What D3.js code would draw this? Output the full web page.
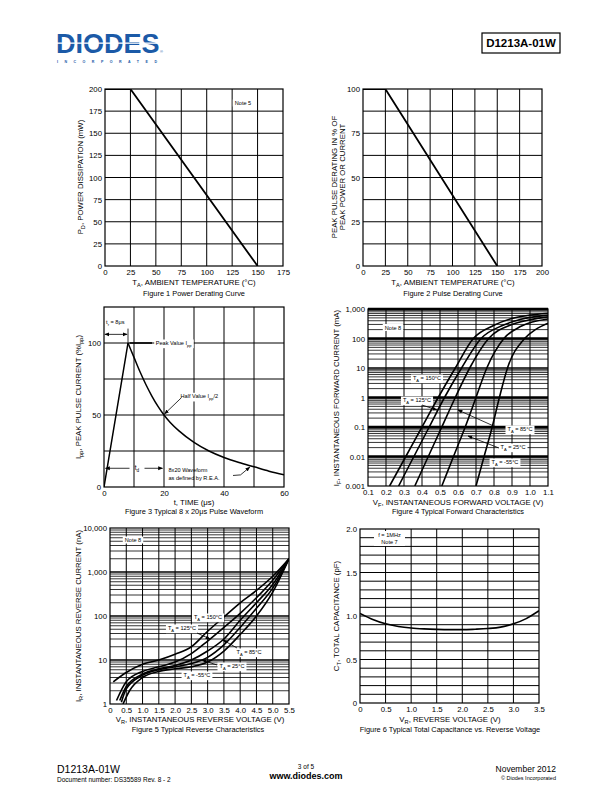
<!DOCTYPE html>
<html><head><meta charset="utf-8">
<script src="https://cdn.jsdelivr.net/npm/d3@7"></script>
<style>
body{margin:0;background:#fff}
svg{display:block}
text{font-family:"Liberation Sans",Arial,Helvetica,sans-serif}
</style>
</head><body>
<script>
// ================= DATA =================
// Figure 1 – Power derating
const fig1Temp = [0, 25, 150];
const fig1Power = [200, 200, 0];
const fig1XTicks = [0, 25, 50, 75, 100, 125, 150, 175];
const fig1YTicks = [0, 25, 50, 75, 100, 125, 150, 175, 200];

// Figure 2 – Pulse derating
const fig2Temp = [0, 25, 150];
const fig2Derating = [100, 100, 0];
const fig2XTicks = [0, 25, 50, 75, 100, 125, 150, 175, 200];
const fig2YTicks = [0, 25, 50, 75, 100];
const fig2YGrid = [12.5, 25, 37.5, 50, 62.5, 75, 87.5, 100];

// Figure 3 – 8x20us pulse waveform
const fig3Time = [0, 8, 10, 12, 14, 16, 18, 20, 22, 25, 30, 35, 40, 45, 50, 55, 60];
const fig3Current = [0, 100, 90, 80, 71, 63, 56, 50, 45, 39, 31, 25, 20.5, 17, 14, 11, 8.5];
const fig3XTicks = [0, 20, 40, 60];
const fig3XGrid = [10, 20, 30, 40, 50];
const fig3YTicks = [0, 50, 100];
const fig3YGrid = [25, 50, 75, 100];

// Figure 4 – forward characteristics (V in volts, I in mA)
const fig4V150 = [0.22, 0.31, 0.40, 0.49, 0.585, 0.685, 0.80, 0.90, 1.00, 1.10];
const fig4I150 = [0.001, 0.01, 0.1, 1, 10, 100, 280, 480, 620, 720];
const fig4V125 = [0.27, 0.355, 0.44, 0.525, 0.62, 0.728, 0.85, 0.95, 1.10];
const fig4I125 = [0.001, 0.01, 0.1, 1, 10, 100, 280, 450, 620];
const fig4V85 = [0.36, 0.435, 0.51, 0.585, 0.665, 0.77, 0.90, 1.00, 1.10];
const fig4I85 = [0.001, 0.01, 0.1, 1, 10, 100, 300, 430, 540];
const fig4V25 = [0.51, 0.575, 0.64, 0.70, 0.76, 0.855, 0.95, 1.10];
const fig4I25 = [0.001, 0.01, 0.1, 1, 10, 100, 260, 460];
const fig4Vm55 = [0.70, 0.745, 0.79, 0.83, 0.875, 0.97, 1.03, 1.10];
const fig4Im55 = [0.001, 0.01, 0.1, 1, 10, 100, 200, 330];
const fig4XTicks = [0.1, 0.2, 0.3, 0.4, 0.5, 0.6, 0.7, 0.8, 0.9, 1.0, 1.1];
const fig4YTicks = [0.001, 0.01, 0.1, 1, 10, 100, 1000];
const fig4YTickLabels = ["0.001", "0.01", "0.1", "1", "10", "100", "1,000"];

// Figure 5 – reverse characteristics (V in volts, I in nA)
const fig5V = [0.1, 0.5, 1.0, 1.5, 2.0, 2.5, 3.0, 3.5, 4.0, 4.5, 5.0, 5.5];
const fig5I150 = [3.2, 5.2, 8, 10, 13.5, 20, 45, 95, 200, 380, 800, 2000];
const fig5V125 = [0.2, 0.5, 1.0, 1.5, 2.0, 2.5, 3.0, 3.5, 4.0, 4.5, 5.0, 5.5];
const fig5I125 = [1.2, 3.2, 5.5, 7, 9, 14, 27, 55, 115, 260, 650, 2000];
const fig5V85 = [0.3, 0.5, 1.0, 1.5, 2.0, 2.5, 3.0, 3.5, 4.0, 4.5, 5.0, 5.5];
const fig5I85 = [1.2, 2.5, 4.8, 6.3, 7.5, 10, 16, 30, 80, 200, 520, 2000];
const fig5V25 = [0.35, 0.5, 1.0, 1.5, 2.0, 2.5, 3.0, 3.5, 4.0, 4.5, 5.0, 5.5];
const fig5I25 = [1.1, 2.2, 4.5, 6, 7, 8.3, 11.5, 22, 55, 150, 430, 2000];
const fig5Vm55 = [0.4, 0.6, 1.0, 1.5, 2.0, 2.5, 3.0, 3.5, 4.0, 4.5, 5.0, 5.5];
const fig5Im55 = [1, 2, 4, 5.5, 6.3, 7, 9, 16, 38, 100, 350, 2000];
const fig5XTicks = [0, 0.5, 1.0, 1.5, 2.0, 2.5, 3.0, 3.5, 4.0, 4.5, 5.0, 5.5];
const fig5XTickLabels = ["0", "0.5", "1.0", "1.5", "2.0", "2.5", "3.0", "3.5", "4.0", "4.5", "5.0", "5.5"];
const fig5YTicks = [1, 10, 100, 1000, 10000];
const fig5YTickLabels = ["1", "10", "100", "1,000", "10,000"];

// Figure 6 – capacitance
const fig6Voltage = [0, 0.25, 0.5, 0.75, 1.0, 1.25, 1.5, 1.75, 2.0, 2.25, 2.5, 2.75, 3.0, 3.25, 3.5];
const fig6Cap = [1.03, 0.96, 0.91, 0.88, 0.862, 0.852, 0.846, 0.843, 0.843, 0.848, 0.856, 0.872, 0.91, 0.97, 1.06];
const fig6XTicks = [0, 0.5, 1.0, 1.5, 2.0, 2.5, 3.0, 3.5];
const fig6XTickLabels = ["0", "0.5", "1.0", "1.5", "2.0", "2.5", "3.0", "3.5"];
const fig6YTicks = [0, 0.5, 1.0, 1.5, 2.0];
const fig6YTickLabels = ["0", "0.5", "1.0", "1.5", "2.0"];
const fig6YGrid = d3.range(1, 20).map(d => d / 10);

// ================= SETUP =================
const FONT = '"Liberation Sans", Arial, Helvetica, sans-serif';
const TICK = 7.8, TITLE = 7.8, CAP = 7.4;
const svg = d3.select("body").append("svg").attr("width", 612).attr("height", 792);
svg.append("rect").attr("width", 612).attr("height", 792).attr("fill", "#fff");
const defs = svg.append("defs");
defs.append("marker").attr("id", "arr").attr("viewBox", "0 0 10 10")
  .attr("refX", 9).attr("refY", 5).attr("markerWidth", 6).attr("markerHeight", 6)
  .attr("orient", "auto-start-reverse")
  .append("path").attr("d", "M0,1L10,5L0,9z").attr("fill", "#000");

function rich(parent, x, y, parts, o = {}) {
  const size = o.size || 7;
  const t = parent.append("text").attr("x", x).attr("y", y)
    .attr("font-size", size).attr("text-anchor", o.anchor || "start").attr("fill", "#000");
  if (o.weight) t.attr("font-weight", o.weight);
  if (o.rotate) t.attr("transform", `rotate(${o.rotate},${x},${y})`);
  let shifted = 0;
  parts.forEach(p => {
    const isSub = typeof p === "object";
    const s = t.append("tspan").text(isSub ? p.t : p);
    const target = isSub ? size * 0.3 : 0;
    if (target !== shifted) { s.attr("dy", target - shifted); shifted = target; }
    if (isSub) s.attr("font-size", size * 0.72);
  });
  return t;
}
function boxed(parent, x, y, parts, o = {}) {
  const g = parent.append("g");
  const r = g.append("rect").attr("fill", "#fff");
  const t = rich(g, x, y, parts, Object.assign({ anchor: "middle", size: 5.6 }, o));
  const b = t.node().getBBox();
  const px = o.padX != null ? o.padX : 2, py = o.padY != null ? o.padY : 0.5;
  r.attr("x", b.x - px).attr("y", b.y - py).attr("width", b.width + 2 * px).attr("height", b.height + 2 * py);
  return g;
}
function arrow(parent, x1, y1, x2, y2, w = 0.8) {
  parent.append("line").attr("x1", x1).attr("y1", y1).attr("x2", x2).attr("y2", y2)
    .attr("stroke", "#000").attr("stroke-width", w).attr("marker-end", "url(#arr)");
}
let clipId = 0;
function panel(box, x, y) {
  const g = svg.append("g");
  const id = "clip" + (clipId++);
  defs.append("clipPath").attr("id", id).append("rect")
    .attr("x", box.l).attr("y", box.t).attr("width", box.r - box.l).attr("height", box.b - box.t);
  const grid = g.append("g");
  const marks = g.append("g").attr("clip-path", `url(#${id})`);
  const ann = g.append("g");
  return { g, grid, marks, ann, box, x, y };
}
function vgrid(p, vals, w = 1) {
  p.grid.append("g").selectAll("line").data(vals).join("line")
    .attr("x1", d => p.x(d)).attr("x2", d => p.x(d))
    .attr("y1", p.box.t).attr("y2", p.box.b)
    .attr("stroke", "#000").attr("stroke-width", w);
}
function hgrid(p, vals, w = 1) {
  p.grid.append("g").selectAll("line").data(vals).join("line")
    .attr("y1", d => p.y(d)).attr("y2", d => p.y(d))
    .attr("x1", p.box.l).attr("x2", p.box.r)
    .attr("stroke", "#000").attr("stroke-width", w);
}
function frame(p, w = 1.2) {
  p.ann.append("rect").attr("x", p.box.l).attr("y", p.box.t)
    .attr("width", p.box.r - p.box.l).attr("height", p.box.b - p.box.t)
    .attr("fill", "none").attr("stroke", "#000").attr("stroke-width", w);
}
function axes(p, xt, xf, yt, yf, size = TICK) {
  const ax = p.g.append("g").attr("transform", `translate(0,${p.box.b})`)
    .call(d3.axisBottom(p.x).tickValues(xt).tickFormat(xf).tickSize(0).tickPadding(3));
  ax.select(".domain").remove();
  ax.attr("font-size", size).attr("font-family", FONT);
  const ay = p.g.append("g").attr("transform", `translate(${p.box.l},0)`)
    .call(d3.axisLeft(p.y).tickValues(yt).tickFormat(yf).tickSize(0).tickPadding(3));
  ay.select(".domain").remove();
  ay.attr("font-size", size).attr("font-family", FONT);
}
function curve(p, xs, ys, w = 1.6, c = d3.curveMonotoneX) {
  const pts = xs.map((v, i) => [v, ys[i]]);
  p.marks.append("path").datum(pts)
    .attr("d", d3.line().x(d => p.x(d[0])).y(d => p.y(d[1])).curve(c))
    .attr("fill", "none").attr("stroke", "#000").attr("stroke-width", w).attr("stroke-linejoin", "round");
}
function logMinor(domain) {
  const out = [];
  for (let e = Math.round(Math.log10(domain[0])); e < Math.round(Math.log10(domain[1])); e++) {
    for (let k = 2; k <= 9; k++) out.push(k * Math.pow(10, e));
  }
  return out;
}
const TA = (s) => ["T", { t: "A" }, " = " + s];

// ================= HEADER =================
const hdr = svg.append("g");
const logo = hdr.append("text").attr("x", 56).attr("y", 52.5).attr("font-size", 27).attr("font-weight", "bold")
  .attr("fill", "#1b5aa7");
logo.append("tspan").text("DIODES");
logo.append("tspan").attr("font-size", 4).attr("font-weight", "normal").attr("dx", 0.5).text("®");
hdr.append("rect").attr("x", 54).attr("y", 42.5).attr("width", 106).attr("height", 1.3).attr("fill", "#fff");
hdr.append("text").attr("x", 57).attr("y", 63).attr("font-size", 3.6).attr("font-weight", "bold")
  .attr("fill", "#1b5aa7").attr("textLength", 100).attr("lengthAdjust", "spacing").text("I N C O R P O R A T E D");
hdr.append("rect").attr("x", 482).attr("y", 33).attr("width", 78).attr("height", 20)
  .attr("fill", "none").attr("stroke", "#000").attr("stroke-width", 1.2);
hdr.append("text").attr("x", 521).attr("y", 47.3).attr("font-size", 11.5).attr("font-weight", "bold")
  .attr("text-anchor", "middle").text("D1213A-01W");

// ================= FIGURE 1 =================
{
  const box = { l: 105, r: 283, t: 89, b: 266 };
  const p = panel(box, d3.scaleLinear([0, 175], [box.l, box.r]), d3.scaleLinear([0, 200], [box.b, box.t]));
  vgrid(p, fig1XTicks.slice(1, -1));
  hgrid(p, fig1YTicks.slice(1, -1));
  curve(p, fig1Temp, fig1Power, 1.8, d3.curveLinear);
  frame(p);
  boxed(p.ann, 243, 105, ["Note 5"]);
  axes(p, fig1XTicks, d3.format("d"), fig1YTicks, d3.format("d"));
  rich(svg, 82.5, 177, ["P", { t: "D" }, ", POWER DISSIPATION (mW)"], { size: TITLE, anchor: "middle", rotate: -90 });
  rich(svg, 194, 285, ["T", { t: "A" }, ", AMBIENT TEMPERATURE (°C)"], { size: TITLE, anchor: "middle" });
  rich(svg, 194, 295.5, ["Figure 1  Power Derating Curve"], { size: CAP, anchor: "middle" });
}

// ================= FIGURE 2 =================
{
  const box = { l: 363, r: 542, t: 89, b: 266 };
  const p = panel(box, d3.scaleLinear([0, 200], [box.l, box.r]), d3.scaleLinear([0, 100], [box.b, box.t]));
  vgrid(p, fig2XTicks.slice(1, -1));
  hgrid(p, fig2YGrid.slice(0, -1));
  curve(p, fig2Temp, fig2Derating, 1.8, d3.curveLinear);
  frame(p);
  axes(p, fig2XTicks, d3.format("d"), fig2YTicks, d3.format("d"));
  rich(svg, 337, 177, ["PEAK PULSE DERATING IN % OF"], { size: TITLE, anchor: "middle", rotate: -90 });
  rich(svg, 345, 177, ["PEAK POWER OR CURRENT"], { size: TITLE, anchor: "middle", rotate: -90 });
  rich(svg, 453, 285, ["T", { t: "A" }, ", AMBIENT TEMPERATURE (°C)"], { size: TITLE, anchor: "middle" });
  rich(svg, 453, 295.5, ["Figure 2 Pulse Derating Curve"], { size: CAP, anchor: "middle" });
}

// ================= FIGURE 3 =================
{
  const box = { l: 104, r: 284, t: 307, b: 487 };
  const p = panel(box, d3.scaleLinear([0, 60], [box.l, box.r]), d3.scaleLinear([0, 125], [box.b, box.t]));
  vgrid(p, fig3XGrid);
  hgrid(p, fig3YGrid);
  const pk = fig3Current.indexOf(d3.max(fig3Current));
  curve(p, fig3Time.slice(0, pk + 1), fig3Current.slice(0, pk + 1), 1.5, d3.curveLinear);
  curve(p, fig3Time.slice(pk), fig3Current.slice(pk), 1.5, d3.curveMonotoneX);
  frame(p);
  const X = p.x, Y = p.y, a = p.ann;
  // t_r marker
  a.append("line").attr("x1", X(8)).attr("x2", X(8)).attr("y1", Y(110)).attr("y2", Y(100)).attr("stroke", "#000").attr("stroke-width", 0.8);
  arrow(a, X(4), Y(106), X(0.3), Y(106));
  arrow(a, X(4), Y(106), X(7.7), Y(106));
  rich(a, X(0.7), Y(113), ["t", { t: "r" }, " = 8μs"], { size: 5.6 });
  // peak value
  a.append("line").attr("x1", X(8.5)).attr("x2", X(16)).attr("y1", Y(100)).attr("y2", Y(100)).attr("stroke", "#000").attr("stroke-width", 1.6);
  boxed(a, X(23.2), Y(100) + 2, ["Peak Value I", { t: "pp" }], { size: 5.6, padX: 1.5 });
  // half value
  boxed(a, X(31.8), Y(63) + 2, ["Half Value I", { t: "pp" }, "/2"], { size: 5.6, padX: 1.5 });
  arrow(a, X(25.8), Y(62), X(20.2), Y(50.8));
  // t_d marker
  arrow(a, X(8.5), Y(13), X(0.5), Y(13));
  arrow(a, X(13.5), Y(13), X(19.5), Y(13));
  rich(a, X(11), Y(13) + 2, ["t", { t: "d" }], { size: 6.5, anchor: "middle" });
  // waveform note
  rich(a, X(21.5), Y(11) + 1, ["8x20 Waveform"], { size: 5.6 });
  rich(a, X(21.5), Y(5.5) + 1, ["as defined by R.E.A."], { size: 5.6 });
  a.append("path").attr("d", `M${X(43)},${Y(8)}L${X(45.5)},${Y(8.4)}`).attr("stroke", "#000").attr("stroke-width", 0.8).attr("fill", "none");
  arrow(a, X(45.5), Y(8.4), X(48.6), Y(13.8));
  axes(p, fig3XTicks, d3.format("d"), fig3YTicks, d3.format("d"));
  rich(svg, 81, 397, ["I", { t: "pp" }, ", PEAK PULSE CURRENT (%I", { t: "pp" }, ")"], { size: TITLE, anchor: "middle", rotate: -90 });
  rich(svg, 194, 504.5, ["t, TIME (μs)"], { size: TITLE, anchor: "middle" });
  rich(svg, 194, 514, ["Figure 3 Typical 8 x 20μs Pulse Waveform"], { size: CAP, anchor: "middle" });
}

// ================= FIGURE 4 =================
{
  const box = { l: 368, r: 548, t: 309, b: 486 };
  const p = panel(box, d3.scaleLinear([0.1, 1.1], [box.l, box.r]), d3.scaleLog([0.001, 1000], [box.b, box.t]));
  vgrid(p, fig4XTicks.slice(1, -1));
  hgrid(p, logMinor([0.001, 1000]), 0.8);
  hgrid(p, [0.01, 0.1, 1, 100], 2.6);
  hgrid(p, [10], 1.3);
  hgrid(p, [1000], 2.6);
  curve(p, fig4V150, fig4I150);
  curve(p, fig4V125, fig4I125);
  curve(p, fig4V85, fig4I85);
  curve(p, fig4V25, fig4I25);
  curve(p, fig4Vm55, fig4Im55);
  frame(p);
  const a = p.ann;
  boxed(a, 393, 329.5, ["Note 8"]);
  boxed(a, 427, 380, TA("150°C"));
  boxed(a, 417, 402, TA("125°C"));
  arrow(a, 422, 405, 437, 410);
  boxed(a, 520, 431, TA("85°C"));
  arrow(a, 497, 427.5, 458, 410);
  boxed(a, 513, 449, TA("25°C"));
  arrow(a, 499, 448, 468, 436);
  boxed(a, 505, 464, TA("-55°C"));
  const fmtY = d => fig4YTickLabels[fig4YTicks.indexOf(d)];
  axes(p, fig4XTicks, d3.format(".1f"), fig4YTicks, fmtY);
  rich(svg, 339, 398, ["I", { t: "F" }, ", INSTANTANEOUS FORWARD CURRENT (mA)"], { size: TITLE, anchor: "middle", rotate: -90 });
  rich(svg, 458, 504.5, ["V", { t: "F" }, ", INSTANTANEOUS FORWARD VOLTAGE (V)"], { size: TITLE, anchor: "middle" });
  rich(svg, 458, 514, ["Figure 4 Typical Forward Characteristics"], { size: CAP, anchor: "middle" });
}

// ================= FIGURE 5 =================
{
  const box = { l: 110, r: 289, t: 528, b: 704 };
  const p = panel(box, d3.scaleLinear([0, 5.5], [box.l, box.r]), d3.scaleLog([1, 10000], [box.b, box.t]));
  vgrid(p, fig5XTicks.slice(1, -1));
  hgrid(p, logMinor([1, 10000]), 0.8);
  hgrid(p, [10, 100, 1000], 1.6);
  curve(p, fig5V, fig5I150);
  curve(p, fig5V125, fig5I125);
  curve(p, fig5V85, fig5I85);
  curve(p, fig5V25, fig5I25);
  curve(p, fig5Vm55, fig5Im55);
  frame(p);
  const a = p.ann;
  boxed(a, 133, 542, ["Note 8"]);
  boxed(a, 208, 619, TA("150°C"));
  boxed(a, 182, 630, TA("125°C"));
  arrow(a, 197, 633, 210, 639);
  boxed(a, 249, 654, TA("85°C"));
  arrow(a, 237, 648, 223, 640);
  boxed(a, 232, 668, TA("25°C"));
  arrow(a, 217, 665, 202, 660);
  boxed(a, 197, 677, TA("-55°C"));
  axes(p, fig5XTicks, d => fig5XTickLabels[fig5XTicks.indexOf(d)], fig5YTicks, d => fig5YTickLabels[fig5YTicks.indexOf(d)]);
  rich(svg, 81, 616, ["I", { t: "R" }, ", INSTANTANEOUS REVERSE CURRENT (nA)"], { size: TITLE, anchor: "middle", rotate: -90 });
  rich(svg, 200, 721.5, ["V", { t: "R" }, ", INSTANTANEOUS REVERSE VOLTAGE (V)"], { size: TITLE, anchor: "middle" });
  rich(svg, 198, 731.5, ["Figure 5 Typical Reverse Characteristics"], { size: CAP, anchor: "middle" });
}

// ================= FIGURE 6 =================
{
  const box = { l: 360, r: 539, t: 529, b: 703 };
  const p = panel(box, d3.scaleLinear([0, 3.5], [box.l, box.r]), d3.scaleLinear([0, 2], [box.b, box.t]));
  vgrid(p, fig6XTicks.slice(1, -1));
  hgrid(p, fig6YGrid);
  curve(p, fig6Voltage, fig6Cap, 1.6, d3.curveMonotoneX);
  frame(p);
  const a = p.ann;
  const g = a.append("g");
  g.append("rect").attr("x", 374).attr("y", 531).attr("width", 31).attr("height", 15).attr("fill", "#fff");
  rich(g, 389.5, 537, ["f = 1MHz"], { size: 5.6, anchor: "middle" });
  rich(g, 389.5, 544, ["Note 7"], { size: 5.6, anchor: "middle" });
  axes(p, fig6XTicks, d => fig6XTickLabels[fig6XTicks.indexOf(d)], fig6YTicks, d => fig6YTickLabels[fig6YTicks.indexOf(d)]);
  rich(svg, 339, 616, ["C", { t: "T" }, ", TOTAL CAPACITANCE (pF)"], { size: TITLE, anchor: "middle", rotate: -90 });
  rich(svg, 450, 721.5, ["V", { t: "R" }, ", REVERSE VOLTAGE (V)"], { size: TITLE, anchor: "middle" });
  rich(svg, 450, 731.5, ["Figure 6 Typical Total Capacitance vs. Reverse Voltage"], { size: CAP, anchor: "middle" });
}

// ================= FOOTER =================
const ft = svg.append("g");
ft.append("text").attr("x", 57).attr("y", 773).attr("font-size", 10.5).text("D1213A-01W");
ft.append("text").attr("x", 57).attr("y", 781.5).attr("font-size", 6.5).text("Document number: DS35589 Rev. 8 - 2");
ft.append("text").attr("x", 306).attr("y", 769).attr("font-size", 6.5).attr("text-anchor", "middle").text("3 of 5");
ft.append("text").attr("x", 306).attr("y", 779).attr("font-size", 9).attr("font-weight", "bold").attr("text-anchor", "middle").text("www.diodes.com");
ft.append("text").attr("x", 556).attr("y", 772).attr("font-size", 8.5).attr("text-anchor", "end").text("November 2012");
ft.append("text").attr("x", 556).attr("y", 779.5).attr("font-size", 5.5).attr("text-anchor", "end").text("© Diodes Incorporated");
</script>
</body></html>
